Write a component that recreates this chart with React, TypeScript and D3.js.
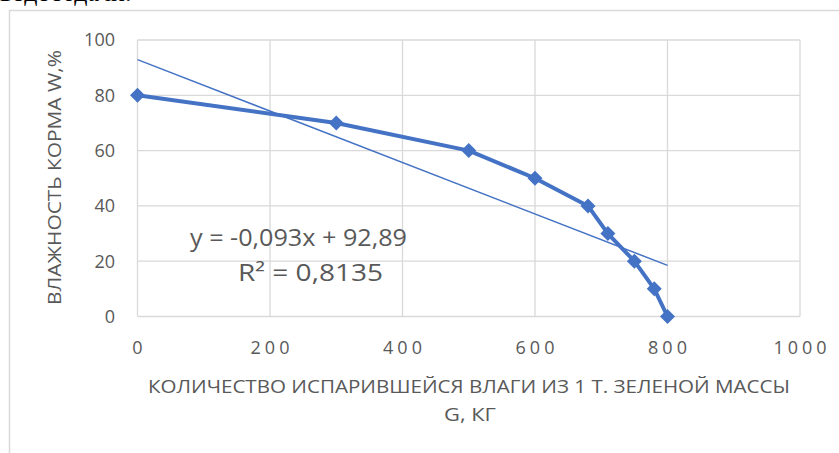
import React from "react";
import * as d3 from "d3";

// Evaporated moisture G (kg per 1 t of green mass) and feed moisture W (%)
const evaporated = [0, 300, 500, 600, 680, 710, 750, 780, 800];
const moisture = [80, 70, 60, 50, 40, 30, 20, 10, 0];

const xTicks = [0, 200, 400, 600, 800, 1000];
const yTicks = [0, 20, 40, 60, 80, 100];

// Linear trend reported on the chart
const trendSlope = -0.093;
const trendIntercept = 92.89;
const trendLabel = "y = -0,093x + 92,89";
const r2Label = "R² = 0,8135";

const xTitle1 = "КОЛИЧЕСТВО ИСПАРИВШЕЙСЯ ВЛАГИ ИЗ 1 Т. ЗЕЛЕНОЙ МАССЫ";
const xTitle2 = "G, КГ";
const yTitle = "ВЛАЖНОСТЬ КОРМА W,%";

const W = 839;
const H = 453;
const plot = { left: 137.5, right: 800, top: 40, bottom: 316.5 };
const blue = "#4472C4";
const grid = "#D9D9D9";
const textColor = "#595959";
const font = "'Open Sans', 'Noto Sans', sans-serif";

export default function App() {
  const x = d3.scaleLinear().domain([0, 1000]).range([plot.left, plot.right]);
  const y = d3.scaleLinear().domain([0, 100]).range([plot.bottom, plot.top]);

  const pts: [number, number][] = evaporated.map((g, i) => [g, moisture[i]]);
  const line = d3
    .line<[number, number]>()
    .x((d) => x(d[0]))
    .y((d) => y(d[1]));

  const trendX = [0, d3.max(evaporated) as number];
  const trendPts: [number, number][] = trendX.map((g) => [g, trendSlope * g + trendIntercept]);

  const diamond = (cx: number, cy: number, r: number) =>
    `M${cx},${cy - r}L${cx + r},${cy}L${cx},${cy + r}L${cx - r},${cy}Z`;

  return (
    <svg
      width={W}
      height={H}
      style={{ position: "absolute", left: 0, top: 0, background: "#fff" }}
    >
      {/* tail of the preceding document line */}
      <text x={0} y={1} fontFamily="'Liberation Serif', serif" fontSize={26} fill="#000">
        водоотдачи.
      </text>

      {/* chart frame */}
      <path d={`M9.5,${H}V10.5H${W}`} fill="none" stroke={grid} strokeWidth={1.5} />

      {/* gridlines */}
      {yTicks.map((t) => (
        <line
          key={"gy" + t}
          x1={plot.left}
          x2={plot.right}
          y1={y(t)}
          y2={y(t)}
          stroke={grid}
          strokeWidth={1.3}
        />
      ))}
      {xTicks.map((t) => (
        <line
          key={"gx" + t}
          x1={x(t)}
          x2={x(t)}
          y1={plot.top}
          y2={plot.bottom}
          stroke={grid}
          strokeWidth={1.3}
        />
      ))}

      {/* tick labels */}
      {yTicks.map((t) => (
        <text
          key={"ty" + t}
          x={115}
          y={y(t)}
          dy="0.36em"
          textAnchor="end"
          fontFamily={font}
          fontSize={18}
          fill={textColor}
        >
          {t}
        </text>
      ))}
      {xTicks.map((t) => (
        <text
          key={"tx" + t}
          x={x(t) + 2}
          y={354}
          textAnchor="middle"
          fontFamily={font}
          fontSize={18}
          letterSpacing={4}
          fill={textColor}
        >
          {t}
        </text>
      ))}

      {/* axis titles */}
      <text
        x={148}
        y={393}
        fontFamily={font}
        fontSize={18}
        fill={textColor}
        textLength={642}
        lengthAdjust="spacingAndGlyphs"
      >
        {xTitle1}
      </text>
      <text
        x={470}
        y={421}
        textAnchor="middle"
        fontFamily={font}
        fontSize={18}
        fill={textColor}
        textLength={52}
        lengthAdjust="spacingAndGlyphs"
      >
        {xTitle2}
      </text>
      <text
        transform={`translate(61,${(50 + 305) / 2}) rotate(-90)`}
        textAnchor="middle"
        fontFamily={font}
        fontSize={18}
        fill={textColor}
        textLength={255}
        lengthAdjust="spacingAndGlyphs"
      >
        {yTitle}
      </text>

      {/* trend line */}
      <path d={line(trendPts) || ""} fill="none" stroke={blue} strokeWidth={1.5} />

      {/* data series */}
      <path
        d={line(pts) || ""}
        fill="none"
        stroke={blue}
        strokeWidth={4}
        strokeLinejoin="round"
      />
      {pts.map((d, i) => (
        <path key={"m" + i} d={diamond(x(d[0]), y(d[1]), 7.5)} fill={blue} />
      ))}

      {/* trend equation */}
      <text
        x={190}
        y={246}
        fontFamily={font}
        fontSize={23}
        fill={textColor}
        textLength={217}
        lengthAdjust="spacingAndGlyphs"
      >
        {trendLabel}
      </text>
      <text
        x={238}
        y={281}
        fontFamily={font}
        fontSize={23}
        fill={textColor}
        textLength={145}
        lengthAdjust="spacingAndGlyphs"
      >
        {r2Label}
      </text>
    </svg>
  );
}
